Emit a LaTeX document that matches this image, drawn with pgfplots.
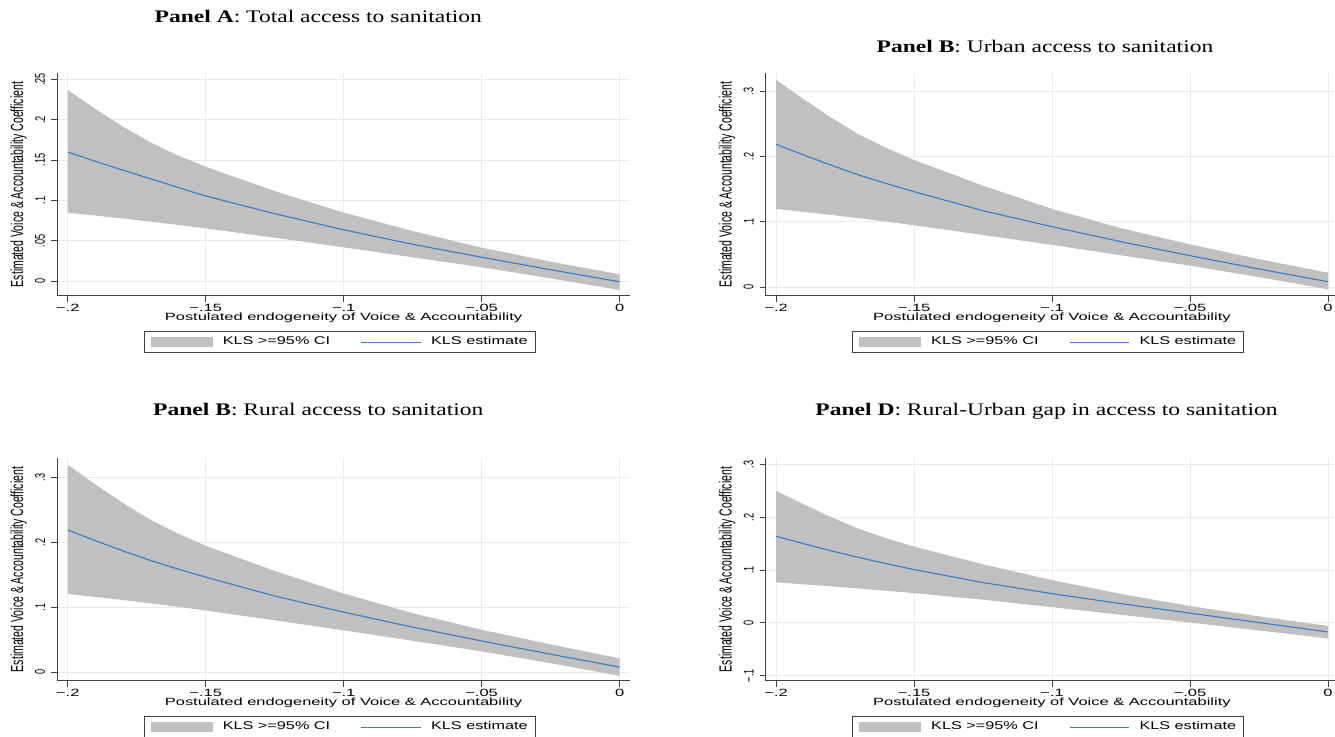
\documentclass[border=0pt]{standalone}
\usepackage{fontspec}
\setmainfont{Liberation Serif}
\newfontfamily\hfont{Liberation Sans}[FakeStretch=1.57]
\newfontfamily\lfont{Liberation Sans}[FakeStretch=1.45]
\newfontfamily\vfont{Liberation Sans}[FakeStretch=0.6]
\newfontfamily\vtfont{Liberation Sans}[FakeStretch=0.65]
\newfontfamily\titlefont{Liberation Serif}[FakeStretch=1.33]
\usepackage{pgfplots}
\pgfplotsset{compat=1.18}
\usepackage{pgfplotstable}
\definecolor{ciGray}{RGB}{192,192,192}
\definecolor{estBlue}{RGB}{55,122,198}
\definecolor{axGray}{RGB}{64,64,64}
\definecolor{gridGray}{RGB}{234,234,234}

% Panel A: band outline (upper bound left to right, then lower bound right to left) and estimate
\pgfplotstableread{
x y
-0.200 0.2370
-0.190 0.2135
-0.180 0.1915
-0.170 0.1720
-0.160 0.1555
-0.150 0.1418
-0.125 0.1115
-0.100 0.0848
-0.075 0.0620
-0.050 0.0414
-0.025 0.0240
0.000 0.0083
0.000 -0.0112
-0.025 0.0033
-0.050 0.0170
-0.075 0.0294
-0.100 0.0418
-0.125 0.0537
-0.150 0.0653
-0.160 0.0695
-0.170 0.0736
-0.180 0.0775
-0.190 0.0812
-0.200 0.0848
}\bandA
\pgfplotstableread{
x y
-0.200 0.1600
-0.190 0.1485
-0.180 0.1375
-0.170 0.1268
-0.160 0.1160
-0.150 0.1055
-0.125 0.0835
-0.100 0.0635
-0.075 0.0455
-0.050 0.0295
-0.025 0.0140
0.000 -0.0010
}\estA

% Panel B
\pgfplotstableread{
x y
-0.200 0.3175
-0.190 0.2879
-0.180 0.2596
-0.170 0.2338
-0.160 0.2133
-0.150 0.1950
-0.125 0.1555
-0.100 0.1200
-0.075 0.0905
-0.050 0.0658
-0.025 0.0430
0.000 0.0224
0.000 -0.0030
-0.025 0.0156
-0.050 0.0331
-0.075 0.0490
-0.100 0.0649
-0.125 0.0801
-0.150 0.0950
-0.160 0.1005
-0.170 0.1058
-0.180 0.1108
-0.190 0.1155
-0.200 0.1200
}\bandB
\pgfplotstableread{
x y
-0.200 0.2190
-0.190 0.2025
-0.180 0.1868
-0.170 0.1720
-0.160 0.1588
-0.150 0.1464
-0.125 0.1173
-0.100 0.0928
-0.075 0.0698
-0.050 0.0484
-0.025 0.0280
0.000 0.0086
}\estB

% Panel C
\pgfplotstableread{
x y
-0.200 0.3190
-0.190 0.2890
-0.180 0.2605
-0.170 0.2345
-0.160 0.2135
-0.150 0.1945
-0.125 0.1560
-0.100 0.1212
-0.075 0.0910
-0.050 0.0655
-0.025 0.0430
0.000 0.0215
0.000 -0.0055
-0.025 0.0140
-0.050 0.0322
-0.075 0.0485
-0.100 0.0645
-0.125 0.0800
-0.150 0.0950
-0.160 0.1008
-0.170 0.1062
-0.180 0.1112
-0.190 0.1160
-0.200 0.1205
}\bandC
\pgfplotstableread{
x y
-0.200 0.2190
-0.190 0.2025
-0.180 0.1868
-0.170 0.1720
-0.160 0.1588
-0.150 0.1464
-0.125 0.1173
-0.100 0.0925
-0.075 0.0695
-0.050 0.0482
-0.025 0.0278
0.000 0.0080
}\estC

% Panel D
\pgfplotstableread{
x y
-0.200 0.2500
-0.190 0.2245
-0.180 0.2001
-0.170 0.1780
-0.160 0.1602
-0.150 0.1445
-0.125 0.1110
-0.100 0.0810
-0.075 0.0550
-0.050 0.0320
-0.025 0.0125
0.000 -0.0055
0.000 -0.0292
-0.025 -0.0142
-0.050 0.0008
-0.075 0.0155
-0.100 0.0300
-0.125 0.0440
-0.150 0.0565
-0.160 0.0609
-0.170 0.0652
-0.180 0.0693
-0.190 0.0732
-0.200 0.0770
}\bandD
\pgfplotstableread{
x y
-0.200 0.1640
-0.190 0.1500
-0.180 0.1365
-0.170 0.1240
-0.160 0.1122
-0.150 0.1010
-0.125 0.0765
-0.100 0.0555
-0.075 0.0365
-0.050 0.0187
-0.025 0.0008
0.000 -0.0170
}\estD

\pgfplotsset{
  stataaxis/.style={
    scale only axis, width=286.25pt, height=111.2pt,
    xmin=-0.2038, xmax=0.0037,
    axis lines=left, axis line style={-, axGray, line width=0.6pt},
    tick align=outside, major tick length=3pt,
    tick style={axGray, line width=0.5pt},
    grid=major, major grid style={gridGray, line width=0.5pt},
    xtick={-0.2,-0.15,-0.1,-0.05,0},
    xticklabels={−.2,−.15,−.1,−.05,0},
    xticklabel style={font=\hfont\fontsize{5.25}{6}\selectfont, anchor=north, inner sep=1pt},
    yticklabel style={font=\vtfont\fontsize{7}{8}\selectfont, rotate=90, anchor=south, inner sep=2.9pt},
    xlabel={Postulated endogeneity of Voice \& Accountability},
    ylabel={Estimated Voice \& Accountability Coefficient},
    every axis x label/.style={at={(axis description cs:0.5,-0.1093)}, anchor=base,
      font=\hfont\fontsize{5.25}{6}\selectfont},
    every axis y label/.style={at={(axis description cs:-0.0676,0.5)}, anchor=center, rotate=90,
      font=\vfont\fontsize{8.75}{10}\selectfont},
    legend columns=2,
    legend cell align=left,
    legend style={at={(axis description cs:0.5,-0.1587)}, anchor=north, xshift=-1.9pt,
      draw=axGray, line width=0.5pt, inner xsep=3.2pt, inner ysep=2.0pt,
      font=\lfont\fontsize{5.6}{6.5}\selectfont,
      nodes={inner sep=0.5pt},
      /tikz/every odd column/.style={column sep=4.5pt},
      /tikz/every even column/.style={column sep=14.8pt}},
  },
  ciband/.style={fill=ciGray, draw=none,
    legend image code/.code={\fill[ciGray] (0pt,-2.5pt) rectangle (31pt,2.5pt);}},
  estline/.style={estBlue, line width=0.55pt, mark=none,
    legend image code/.code={\draw[estBlue, line width=0.55pt] (0pt,0pt) -- (29.6pt,0pt);}},
}

\begin{document}
\begin{tikzpicture}
\useasboundingbox (0,0) rectangle (667.5pt,368pt);

% Panel A
\begin{axis}[stataaxis, at={(28.65pt,220.15pt)}, anchor=south west,
  ymin=-0.01824, ymax=0.2577,
  ytick={0,0.05,0.1,0.15,0.2,0.25}, yticklabels={0,.05,.1,.15,.2,.25}]
\addplot[ciband] table[x=x,y=y]{\bandA} -- cycle;
\addlegendentry{KLS >=95\% CI}
\addplot[estline] table[x=x,y=y]{\estA};
\addlegendentry{KLS estimate}
\end{axis}

% Panel B
\begin{axis}[stataaxis, at={(382.85pt,220.15pt)}, anchor=south west,
  ymin=-0.01286, ymax=0.3277,
  ytick={0,0.1,0.2,0.3}, yticklabels={0,.1,.2,.3}]
\addplot[ciband] table[x=x,y=y]{\bandB} -- cycle;
\addlegendentry{KLS >=95\% CI}
\addplot[estline] table[x=x,y=y]{\estB};
\addlegendentry{KLS estimate}
\end{axis}

% Panel C
\begin{axis}[stataaxis, at={(28.65pt,27.65pt)}, anchor=south west,
  ymin=-0.01292, ymax=0.3292,
  ytick={0,0.1,0.2,0.3}, yticklabels={0,.1,.2,.3}]
\addplot[ciband] table[x=x,y=y]{\bandC} -- cycle;
\addlegendentry{KLS >=95\% CI}
\addplot[estline] table[x=x,y=y]{\estC};
\addlegendentry{KLS estimate}
\end{axis}

% Panel D
\begin{axis}[stataaxis, at={(382.85pt,27.65pt)}, anchor=south west,
  ymin=-0.1092, ymax=0.3116,
  ytick={-0.1,0,0.1,0.2,0.3}, yticklabels={−.1,0,.1,.2,.3}]
\addplot[ciband] table[x=x,y=y]{\bandD} -- cycle;
\addlegendentry{KLS >=95\% CI}
\addplot[estline] table[x=x,y=y]{\estD};
\addlegendentry{KLS estimate}
\end{axis}

\node[font=\titlefont\fontsize{8.85}{10}\selectfont, anchor=base] at (159.15pt,356.65pt) {\textbf{Panel A}: Total access to sanitation};
\node[font=\titlefont\fontsize{8.85}{10}\selectfont, anchor=base] at (522.5pt,341.55pt) {\textbf{Panel B}: Urban access to sanitation};
\node[font=\titlefont\fontsize{8.85}{10}\selectfont, anchor=base] at (159.15pt,160.05pt) {\textbf{Panel B}: Rural access to sanitation};
\node[font=\titlefont\fontsize{8.85}{10}\selectfont, anchor=base] at (523.25pt,160.05pt) {\textbf{Panel D}: Rural-Urban gap in access to sanitation};
\end{tikzpicture}
\end{document}
